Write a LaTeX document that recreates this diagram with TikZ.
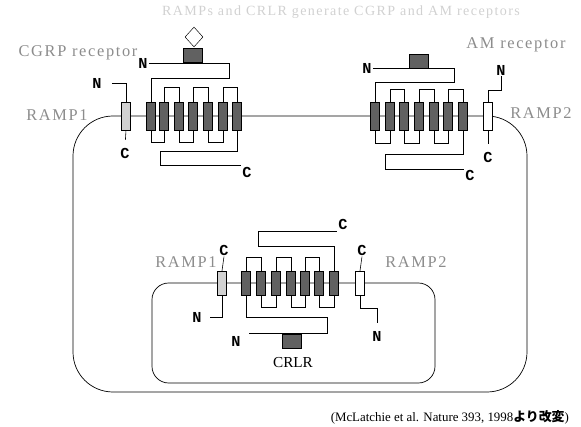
\documentclass[tikz,border=0pt]{standalone}
\usepackage{fontspec}
\setmainfont{Liberation Serif}
\newfontfamily\termfont{Liberation Mono}
\newfontfamily\spacedfont[LetterSpace=10]{Liberation Serif}
\newfontfamily\cjk{Noto Sans CJK JP}
\usepackage{tikz}
\usetikzlibrary{shapes.geometric}

\begin{document}
\begin{tikzpicture}[x=0.03cm, y=-0.03cm,
  tm/.style={draw, fill=black!62, minimum width=0.27cm,
             minimum height=0.84cm, inner sep=0pt},
  tmi/.style={tm, minimum height=0.72cm},
  rampA/.style={tm, fill=black!18},
  rampB/.style={tm, fill=white},
  lig/.style={draw, fill=black!62, minimum width=0.57cm,
              minimum height=0.42cm, inner sep=0pt},
  term/.style={font=\termfont\bfseries\fontsize{13}{13}\selectfont, inner sep=1pt},
  glbl/.style={font=\spacedfont\fontsize{14}{14}\selectfont, text=black!45, inner sep=0pt},
  ln/.style={line width=0.5pt},
]
\useasboundingbox (0,0) rectangle (581,427);

% ---- Title -----------------------------------------------------------------
\node[font=\spacedfont\fontsize{12}{12}\selectfont, text=black!18] (ttl)
  at (341,12) {RAMPs and CRLR generate CGRP and AM receptors};

% ---- Cell and endosome -----------------------------------------------------
\draw[line width=0.6pt, rounded corners=1.2cm] (73,116) rectangle (527,392);
\draw[line width=0.6pt, rounded corners=0.5cm] (152,283) rectangle (435,383);

% ---- CGRP receptor (RAMP1 + CRLR) ------------------------------------------
\foreach \i/\x in {1/151,2/164,3/179,4/193,5/208,6/223,7/237}
  \node[tm] (cg\i) at (\x,116) {};
\foreach \a/\b in {2/3,4/5,6/7}
  \draw[ln] (cg\a.north) -- ++(0,-14) -| (cg\b.north);
\foreach \a/\b in {1/2,3/4,5/6}
  \draw[ln] (cg\a.south) -- ++(0,12) -| (cg\b.south);

\node[term] (cgN) at (143,63) {N};
\draw[ln] (cgN.east) -- ++(80,0) -- ++(0,15) -| (cg1.north);
\node[lig, anchor=south] (cgL) at (193,62) {};
\node[draw, diamond, fill=white, minimum width=0.54cm, minimum height=0.6cm,
      inner sep=0pt] (cgP) at (194,37) {};
\node[term] (cgC) at (247,172) {C};
\draw[ln] (cg7.south) -- ++(0,21) -- ++(-77,0) -- ++(0,14) coordinate (k)
  -- (k -| cgC.west);

\node[rampA] (r1o) at (126,116) {};
\node[term] (r1oN) at (97,83) {N};
\draw[ln, shorten <=0.27cm] (r1oN.east) -| (r1o.north);
\node[term] (r1oC) at (125,153) {C};
\draw[ln, shorten >=0.2cm] (r1o.south) -- (r1oC.north);

\node[glbl] (r1oT) at (57,115) {RAMP1};
\node[glbl] (cgT)  at (78,53)  {CGRP receptor};

% ---- AM receptor (RAMP2 + CRLR) --------------------------------------------
\foreach \i/\x in {1/375,2/390,3/404,4/419,5/434,6/448,7/463}
  \node[tm] (am\i) at (\x,116) {};
\foreach \a/\b in {2/3,4/5,6/7}
  \draw[ln] (am\a.north) -- ++(0,-12) -| (am\b.north);
\foreach \a/\b in {1/2,3/4,5/6}
  \draw[ln] (am\a.south) -- ++(0,13) -| (am\b.south);

\node[term] (amN) at (367,68) {N};
\draw[ln] (amN.east) -- ++(81,0) -- ++(0,14) -| (am1.north);
\node[lig, anchor=south] (amL) at (419,68) {};
\node[term] (amC) at (470,175) {C};
\draw[ln] (am7.south) -- ++(0,24) -- ++(-78,0) -- ++(0,15) coordinate (k)
  -- (k -| amC.west);

\node[rampB] (r2o) at (488,116) {};
\node[term] (r2oN) at (501,70) {N};
\draw[ln] (r2o.north) -- ++(0,-11) -| (r2oN.south);
\node[term] (r2oC) at (488,157) {C};
\draw[ln, shorten >=0.2cm] (r2o.south) -- (r2oC.north);

\node[glbl] (r2oT) at (541,113) {RAMP2};
\node[glbl] (amT)  at (516,45)  {AM receptor};

% ---- Internalised CRLR with RAMPs ------------------------------------------
\foreach \i/\x in {1/246,2/261,3/276,4/291,5/305,6/319,7/334}
  \node[tmi] (cr\i) at (\x,283) {};
\foreach \a/\b in {1/2,3/4,5/6}
  \draw[ln] (cr\a.north) -- ++(0,-13) -| (cr\b.north);
\foreach \a/\b in {2/3,4/5,6/7}
  \draw[ln] (cr\a.south) -- ++(0,12) -| (cr\b.south);

\node[term] (crN) at (236,341) {N};
\draw[ln, shorten >=0.2cm] (cr1.south) -- ++(0,22) -- ++(81,0) -- ++(0,16)
  coordinate (k) -- (k -| crN.east);
\node[lig, anchor=north] (crB) at (292,334) {};
\node[font=\fontsize{13}{13}\selectfont] (crL) at (293,363) {CRLR};
\node[term] (crC) at (343,224) {C};
\draw[ln] (cr7.north) -- ++(0,-24) -- ++(-76,0) -- ++(0,-15) coordinate (k)
  -- (k -| crC.west);

\node[rampA, minimum height=0.72cm] (r1i) at (222,283) {};
\node[term] (r1iC) at (224,250) {C};
\draw[ln] (r1i.north) -- (r1iC.south);
\node[term] (r1iN) at (197,317) {N};
\draw[ln, shorten >=0.2cm] (r1i.south) |- (r1iN.east);

\node[rampB, minimum height=0.72cm] (r2i) at (360,283) {};
\node[term] (r2iC) at (362,250) {C};
\draw[ln] (r2i.north) -- (r2iC.south);
\node[term] (r2iN) at (377,336) {N};
\draw[ln, shorten >=0.2cm] (r2i.south) -- ++(0,13) -| (r2iN.north);

\node[glbl] (r1iT) at (186,262) {RAMP1};
\node[glbl] (r2iT) at (416,262) {RAMP2};

% ---- Source ----------------------------------------------------------------
\node[font=\fontsize{11}{11}\selectfont, anchor=east] (src) at (573,417)
  {(McLatchie et al. Nature 393, 1998{\cjk\bfseries より改変})};

\end{tikzpicture}
\end{document}
